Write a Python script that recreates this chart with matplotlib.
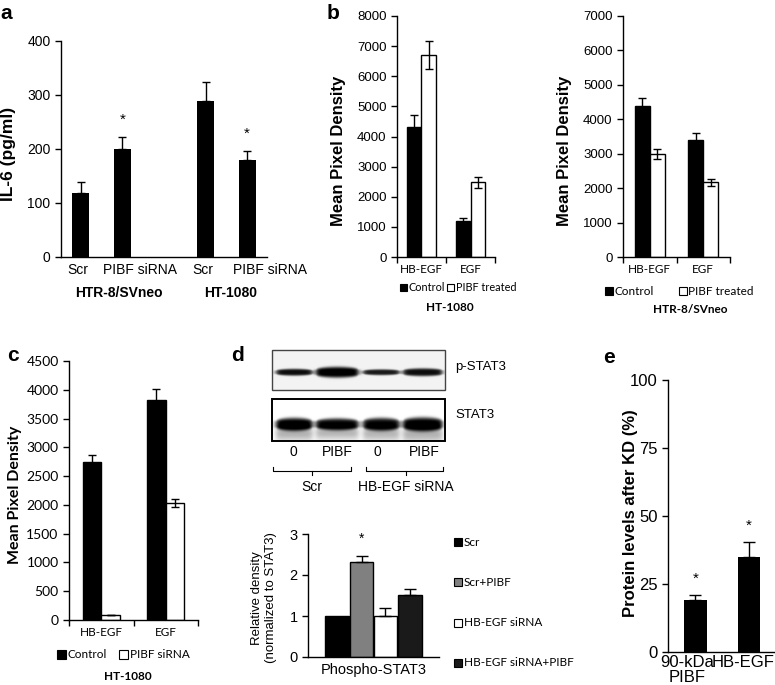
import numpy as np
import matplotlib
matplotlib.use('Agg')
import matplotlib.pyplot as plt
from matplotlib.patches import Rectangle

W, H = 775, 685
ARIAL = 'Liberation Sans'
CALIBRI = 'Lato'

# panel a: IL-6 ELISA
a_labels = ['Scr', 'PIBF siRNA', 'Scr', 'PIBF siRNA']
a_groups = ['HTR-8/SVneo', 'HT-1080']
a_values = [118, 200, 289, 180]
a_errors = [21, 22, 36, 16]
a_star = [False, True, False, True]

# panel b: HB-EGF / EGF pixel density
b_cats = ['HB-EGF', 'EGF']
b_series = ['Control', 'PIBF treated']
b1_control = [4330, 1200]
b1_control_err = [390, 100]
b1_treated = [6700, 2480]
b1_treated_err = [470, 175]
b2_control = [4380, 3410]
b2_control_err = [240, 190]
b2_treated = [2990, 2170]
b2_treated_err = [150, 95]

# panel c
c_series = ['Control', 'PIBF siRNA']
c_control = [2740, 3830]
c_control_err = [135, 185]
c_sirna = [85, 2030]
c_sirna_err = [0, 75]

# panel d: blot + densitometry
blot_lanes = ['0', 'PIBF', '0', 'PIBF']
blot_groups = ['Scr', 'HB-EGF siRNA']
pstat3_intensity = [0.9, 1.0, 0.85, 0.9]
pstat3_thickness = [7, 11, 6, 8]
stat3_intensity = [1.0, 0.95, 0.95, 1.0]
stat3_thickness = [13, 12, 13, 14]
d_labels = ['Scr', 'Scr+PIBF', 'HB-EGF siRNA', 'HB-EGF siRNA+PIBF']
d_values = [1.0, 2.31, 1.0, 1.52]
d_errors = [0, 0.16, 0.19, 0.14]
d_colors = ['#000000', '#808080', '#ffffff', '#1a1a1a']

# panel e
e_labels = ['90-kDa\nPIBF', 'HB-EGF']
e_values = [19, 35]
e_errors = [2, 5.5]

fig = plt.figure(figsize=(W / 100, H / 100), dpi=100)

# overlay in pixel coordinates for free text, legends and the blot
ov = fig.add_axes([0, 0, 1, 1])
ov.set_xlim(0, W)
ov.set_ylim(H, 0)
ov.axis('off')


def add_ax(left, top, right, bottom):
    return fig.add_axes([left / W, 1 - bottom / H, (right - left) / W, (bottom - top) / H])


def style(ax, fs, family):
    ax.spines['top'].set_visible(False)
    ax.spines['right'].set_visible(False)
    ax.spines['left'].set_linewidth(1)
    ax.spines['bottom'].set_linewidth(1)
    ax.tick_params(direction='out', length=4, width=1, labelsize=fs)
    for lab in ax.get_yticklabels():
        lab.set_fontfamily(family)


def legend_row(x_list, y, labels, colors, size, fs):
    for x, lab, c in zip(x_list, labels, colors):
        ov.add_patch(Rectangle((x, y - size / 2), size, size, facecolor=c,
                               edgecolor='black', lw=0.8))
        ov.text(x + size + 1.5, y, lab, fontsize=fs, family=CALIBRI, va='center')


def grouped(ax, control, control_err, other, other_err, bw):
    x = np.arange(len(control))
    ax.bar(x - bw / 2, control, bw, color='black', edgecolor='black', lw=1)
    ax.bar(x + bw / 2, other, bw, color='white', edgecolor='black', lw=1)
    ax.errorbar(x - bw / 2, control, yerr=control_err, fmt='none', ecolor='black',
                elinewidth=1, capsize=3)
    ax.errorbar(x + bw / 2, other, yerr=other_err, fmt='none', ecolor='black',
                elinewidth=1, capsize=3)
    ax.set_xlim(-0.5, len(control) - 0.5)
    ax.set_xticks(np.arange(len(control) + 1) - 0.5)
    ax.set_xticklabels([])
    ax.set_xticks(x, minor=True)


# ---- a ----
ax = add_ax(61, 41, 267, 257)
a_pos = [0, 1, 3, 4]
ax.bar(a_pos, a_values, width=0.41, color='black')
ax.errorbar(a_pos, a_values, yerr=[np.zeros(4), a_errors], fmt='none', ecolor='black',
            elinewidth=1, capsize=3)
for p, v, e, s in zip(a_pos, a_values, a_errors, a_star):
    if s:
        ax.text(p, v + e + 32, '*', ha='center', va='center', fontsize=11, family=ARIAL)
ax.set_xlim(-0.48, 4.48)
ax.set_ylim(0, 400)
ax.set_yticks(range(0, 401, 100))
ax.set_xticks([])
style(ax, 10, ARIAL)
# category labels sit a little right of the bars, as typed in the original
for xl, lab in zip([-0.07, 1.42, 2.93, 4.55], a_labels):
    ax.text(xl, -0.028, lab, transform=ax.get_xaxis_transform(), ha='center', va='top',
            fontsize=10, family=ARIAL)
ov.text(119, 293, a_groups[0], fontsize=10, family=ARIAL, weight='bold', ha='center', va='center')
ov.text(231, 293, a_groups[1], fontsize=10, family=ARIAL, weight='bold', ha='center', va='center')
ov.text(9, 154, 'IL-6 (pg/ml)', fontsize=12.5, family=ARIAL, weight='bold', rotation=90,
        ha='center', va='center')

# ---- b left ----
ax = add_ax(397, 16, 495, 257)
grouped(ax, b1_control, b1_control_err, b1_treated, b1_treated_err, 0.3)
ax.set_ylim(0, 8000)
ax.set_yticks(range(0, 8001, 1000))
ax.set_xticklabels(b_cats, minor=True, family=CALIBRI, fontsize=8.5)
style(ax, 9.5, ARIAL)
ax.tick_params(axis='x', which='minor', length=0, pad=5)
ov.text(339, 151, 'Mean Pixel Density', fontsize=12, family=ARIAL, weight='bold', rotation=90,
        ha='center', va='center')
legend_row([400, 447], 287, b_series, ['black', 'white'], 7, 7.8)
ov.text(450, 307, 'HT-1080', fontsize=8.5, family=CALIBRI, weight='bold', ha='center', va='center')

# ---- b right ----
ax = add_ax(623, 16, 730, 257)
grouped(ax, b2_control, b2_control_err, b2_treated, b2_treated_err, 0.28)
ax.set_ylim(0, 7000)
ax.set_yticks(range(0, 7001, 1000))
ax.set_xticklabels(b_cats, minor=True, family=CALIBRI, fontsize=8.5)
style(ax, 9.5, ARIAL)
ax.tick_params(axis='x', which='minor', length=0, pad=5)
ov.text(564, 151, 'Mean Pixel Density', fontsize=12, family=ARIAL, weight='bold', rotation=90,
        ha='center', va='center')
legend_row([605, 679], 291, b_series, ['black', 'white'], 8, 8.5)
ov.text(690, 309, 'HTR-8/SVneo', fontsize=8.5, family=CALIBRI, weight='bold', ha='center', va='center')

# ---- c ----
ax = add_ax(69, 361, 198, 620)
grouped(ax, c_control, c_control_err, c_sirna, c_sirna_err, 0.29)
ax.set_ylim(0, 4500)
ax.set_yticks(range(0, 4501, 500))
ax.set_xticklabels(b_cats, minor=True, family=CALIBRI, fontsize=8.5)
style(ax, 10, CALIBRI)
ax.tick_params(axis='x', which='minor', length=0, pad=5)
ov.text(15, 495, 'Mean Pixel Density', fontsize=11.5, family=CALIBRI, weight='bold', rotation=90,
        ha='center', va='center')
legend_row([57, 119], 654, c_series, ['black', 'white'], 9, 8.5)
ov.text(128, 677, 'HT-1080', fontsize=8.5, family=CALIBRI, weight='bold', ha='center', va='center')

# ---- d: blot ----
lane_x = [(276, 312), (316, 358), (363, 399), (403, 442)]


def blot_image(x0, x1, y0, y1, yc, intensity, thickness, smear, bg):
    xs = np.arange(x0, x1, 0.5)
    ys = np.arange(y0, y1, 0.5)
    X, Y = np.meshgrid(xs, ys)
    dark = np.full(X.shape, bg)
    for (l, r), inten, t in zip(lane_x, intensity, thickness):
        px = 1 / (1 + np.exp(-(X - l) / 1.5)) / (1 + np.exp(-(r - X) / 1.5))
        frac = np.clip((X - l) / (r - l), 0, 1)
        half = t / 2 * (0.55 + 0.45 * np.sin(np.pi * frac) ** 0.5)
        py = np.exp(-((Y - yc) / half) ** 4)
        dark += inten * px * py
        if smear:
            dark += 0.3 * inten * px * np.exp(-((Y - yc - t * 0.7) / (t * 0.6)) ** 2)
    img = 1 - np.clip(dark, 0, 1)
    ov.imshow(img, cmap='gray', vmin=0, vmax=1, extent=(x0, x1, y1, y0), aspect='auto',
              interpolation='bilinear')


blot_image(272, 445, 350, 390, 372, pstat3_intensity, pstat3_thickness, False, 0.05)
blot_image(272, 445, 399, 441, 424, stat3_intensity, stat3_thickness, True, 0.0)
ov.add_patch(Rectangle((272, 350), 173, 40, fill=False, edgecolor='#444444', lw=1))
ov.add_patch(Rectangle((272, 399), 173, 42, fill=False, edgecolor='black', lw=1.4))
ov.set_xlim(0, W)
ov.set_ylim(H, 0)
ov.text(455, 367, 'p-STAT3', fontsize=9.5, family=ARIAL, va='center')
ov.text(455, 415, 'STAT3', fontsize=9.5, family=ARIAL, va='center')
for xc, lab in zip([293, 337, 377, 424], blot_lanes):
    ov.text(xc, 452, lab, fontsize=10, family=ARIAL, ha='center', va='center')
for (l, r), xc, lab in zip([(273, 351), (366, 443)], [312, 406], blot_groups):
    ov.plot([l, l, r, r], [467, 471, 471, 467], color='black', lw=0.8)
    ov.plot([xc, xc], [471, 475], color='black', lw=0.8)
    ov.text(xc, 487, lab, fontsize=10, family=ARIAL, ha='center', va='center')

# ---- d: bars ----
ax = add_ax(308, 534, 439, 657)
d_pos = [-0.275, -0.0916, 0.0916, 0.275]
ax.bar(d_pos, d_values, width=0.183, color=d_colors, edgecolor='black', lw=1)
for p, v, e in zip(d_pos, d_values, d_errors):
    if e > 0:
        ax.errorbar(p, v, yerr=[[0], [e]], fmt='none', ecolor='black', elinewidth=1, capsize=4)
ax.text(d_pos[1], d_values[1] + d_errors[1] + 0.42, '*', ha='center', va='center',
        fontsize=10, family=ARIAL)
ax.set_xlim(-0.5, 0.5)
ax.set_ylim(0, 3)
ax.set_yticks([0, 1, 2, 3])
ax.set_xticks([0])
ax.set_xticklabels(['Phospho-STAT3'], family=ARIAL, fontsize=9.5)
style(ax, 10.5, ARIAL)
ax.tick_params(axis='x', length=0, pad=4)
ov.text(257, 598, 'Relative density', fontsize=9.5, family=ARIAL, rotation=90,
        ha='center', va='center')
ov.text(271, 598, '(normalized to STAT3)', fontsize=9.5, family=ARIAL, rotation=90,
        ha='center', va='center')
for y, lab, c in zip([542, 582, 623, 663], d_labels, d_colors):
    legend_row([454], y, [lab], [c], 8, 8.5)

# ---- e ----
ax = add_ax(668, 380, 775, 652)
e_pos = [0, 1]
ax.bar(e_pos, e_values, width=0.42, color='black')
ax.errorbar(e_pos, e_values, yerr=[np.zeros(2), e_errors], fmt='none', ecolor='black',
            elinewidth=1, capsize=4)
for p, v, e in zip(e_pos, e_values, e_errors):
    ax.text(p, v + e + 6, '*', ha='center', va='center', fontsize=11, family=ARIAL)
ax.set_xlim(-0.514, 1.486)
ax.set_ylim(0, 100)
ax.set_yticks([0, 25, 50, 75, 100])
# labels are spread a little apart so they do not collide
ax.set_xticks([-0.15, 0.88])
ax.set_xticklabels(e_labels, family=ARIAL, fontsize=8.5, linespacing=1.0)
style(ax, 12, ARIAL)
ax.tick_params(axis='x', length=0, pad=2)
ov.text(630, 513, 'Protein levels after KD (%)', fontsize=12, family=ARIAL, weight='bold',
        rotation=90, ha='center', va='center')

# panel letters
for x, y, s in [(6, 13, 'a'), (333, 13, 'b'), (13, 355, 'c'), (237, 355, 'd'), (609, 357, 'e')]:
    ov.text(x, y, s, fontsize=15, family=ARIAL, weight='bold', ha='center', va='center')

fig.savefig('out.png', dpi=100)
